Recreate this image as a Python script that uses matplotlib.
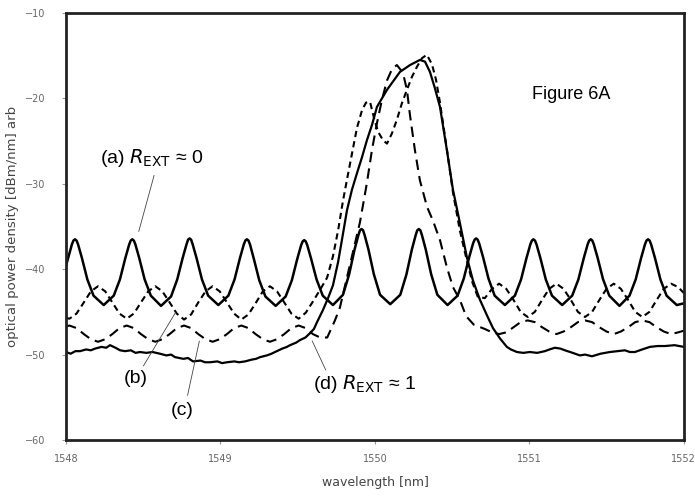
import matplotlib.pyplot as plt

# curve (a): R_EXT ~ 0, Fabry-Perot type fringes
a_wl = [1548.000, 1548.020, 1548.038, 1548.048, 1548.058, 1548.068, 1548.078, 1548.103, 1548.138, 1548.178, 1548.244,
        1548.309, 1548.349, 1548.384, 1548.409, 1548.419, 1548.429, 1548.439, 1548.449, 1548.474, 1548.509, 1548.549, 1548.615,
        1548.680, 1548.720, 1548.755, 1548.780, 1548.790, 1548.800, 1548.810, 1548.820, 1548.845, 1548.880, 1548.920, 1548.986,
        1549.051, 1549.091, 1549.126, 1549.151, 1549.161, 1549.171, 1549.181, 1549.191, 1549.216, 1549.251, 1549.291, 1549.357,
        1549.422, 1549.462, 1549.497, 1549.522, 1549.532, 1549.542, 1549.552, 1549.562, 1549.587, 1549.622, 1549.662, 1549.728,
        1549.793, 1549.833, 1549.868, 1549.893, 1549.903, 1549.913, 1549.923, 1549.933, 1549.958, 1549.993, 1550.033, 1550.099,
        1550.164, 1550.204, 1550.239, 1550.264, 1550.274, 1550.284, 1550.294, 1550.304, 1550.329, 1550.364, 1550.404, 1550.470,
        1550.535, 1550.575, 1550.610, 1550.635, 1550.645, 1550.655, 1550.665, 1550.675, 1550.700, 1550.735, 1550.775, 1550.841,
        1550.906, 1550.946, 1550.981, 1551.006, 1551.016, 1551.026, 1551.036, 1551.046, 1551.071, 1551.106, 1551.146, 1551.212,
        1551.277, 1551.317, 1551.352, 1551.377, 1551.387, 1551.397, 1551.407, 1551.417, 1551.442, 1551.477, 1551.517, 1551.583,
        1551.648, 1551.688, 1551.723, 1551.748, 1551.758, 1551.768, 1551.778, 1551.788, 1551.813, 1551.848, 1551.888, 1551.954,
        1552.000]
a_db = [-39.6, -38.3, -37.1, -36.65, -36.5, -36.65, -37.1, -38.7, -41.2, -43.1, -44.2,
        -43.1, -41.2, -38.7, -37.1, -36.65, -36.5, -36.65, -37.1, -38.7, -41.2, -43.1, -44.3,
        -43.2, -41.2, -38.7, -37.1, -36.55, -36.4, -36.55, -37.1, -38.7, -41.2, -43.1, -44.2,
        -43.1, -41.2, -38.7, -37.1, -36.65, -36.5, -36.65, -37.1, -38.8, -41.3, -43.2, -44.3,
        -43.2, -41.3, -38.8, -37.2, -36.75, -36.6, -36.75, -37.2, -38.8, -41.2, -43.1, -44.2,
        -43.0, -40.6, -37.7, -36.0, -35.45, -35.3, -35.45, -36.0, -37.7, -40.6, -43.0, -44.1,
        -43.0, -40.6, -37.7, -36.0, -35.45, -35.3, -35.45, -36.0, -37.7, -40.6, -43.0, -44.2,
        -43.1, -41.1, -38.6, -37.0, -36.55, -36.4, -36.55, -37.0, -38.6, -41.1, -43.1, -44.2,
        -43.1, -41.2, -38.7, -37.1, -36.65, -36.5, -36.65, -37.1, -38.7, -41.2, -43.1, -44.2,
        -43.1, -41.2, -38.7, -37.1, -36.65, -36.5, -36.65, -37.1, -38.7, -41.2, -43.1, -44.3,
        -43.1, -41.2, -38.7, -37.1, -36.65, -36.5, -36.65, -37.1, -38.7, -41.2, -43.1, -44.2,
        -44.0]

# curve (b): upper dashed
b_wl = [1548.000, 1548.022, 1548.068, 1548.115, 1548.161, 1548.207, 1548.254, 1548.300, 1548.346,
        1548.393, 1548.439, 1548.485, 1548.532, 1548.578, 1548.624, 1548.671, 1548.717,
        1548.764, 1548.810, 1548.856, 1548.903, 1548.949, 1548.995, 1549.042, 1549.088,
        1549.135, 1549.181, 1549.227, 1549.274, 1549.320, 1549.366, 1549.413, 1549.459,
        1549.506, 1549.552, 1549.598, 1549.645, 1549.690, 1549.728, 1549.761, 1549.793,
        1549.819, 1549.851, 1549.883, 1549.916, 1549.942, 1549.968, 1549.994, 1550.020,
        1550.052, 1550.078, 1550.110, 1550.142, 1550.174, 1550.207, 1550.239, 1550.272,
        1550.304, 1550.336, 1550.369, 1550.395, 1550.421, 1550.466, 1550.505, 1550.550,
        1550.595, 1550.630, 1550.665, 1550.711, 1550.758, 1550.804, 1550.850, 1550.897,
        1550.943, 1550.989, 1551.035, 1551.082, 1551.128, 1551.175, 1551.221, 1551.268,
        1551.314, 1551.360, 1551.406, 1551.453, 1551.499, 1551.546, 1551.592, 1551.639,
        1551.685, 1551.731, 1551.777, 1551.824, 1551.870, 1551.917, 1551.963, 1552.000]
b_db = [-45.7, -45.8, -45.2, -43.9, -42.6, -42.0, -42.6, -43.9, -45.2,
        -45.8, -45.2, -43.9, -42.6, -42.0, -42.6, -43.9, -45.2,
        -45.9, -45.3, -43.9, -42.6, -42.0, -42.6, -43.9, -45.2,
        -45.9, -45.3, -44.0, -42.6, -42.0, -42.6, -43.9, -45.2,
        -45.8, -45.1, -43.8, -42.4, -41.0, -38.5, -35.5, -32.0,
        -29.5, -26.5, -23.5, -21.4, -20.5, -20.4, -22.3, -23.9,
        -24.9, -25.3, -24.1, -22.5, -20.6, -19.0, -17.5, -16.3,
        -15.3, -14.9, -16.0, -17.8, -20.5, -26.0, -31.0, -35.5,
        -39.0, -41.5, -43.2, -43.4, -42.3, -41.7, -42.3, -43.6,
        -45.0, -45.6, -45.0, -43.6, -42.3, -41.7, -42.3, -43.6,
        -45.0, -45.6, -45.0, -43.6, -42.3, -41.7, -42.3, -43.6,
        -45.0, -45.6, -45.0, -43.6, -42.3, -41.7, -42.1, -42.8]

# curve (c): lower dashed
c_wl = [1548.000, 1548.022, 1548.068, 1548.115, 1548.161, 1548.207, 1548.254, 1548.300, 1548.346,
        1548.393, 1548.439, 1548.485, 1548.532, 1548.578, 1548.624, 1548.671, 1548.717,
        1548.764, 1548.810, 1548.856, 1548.903, 1548.949, 1548.995, 1549.042, 1549.088,
        1549.135, 1549.181, 1549.227, 1549.274, 1549.320, 1549.366, 1549.413, 1549.459,
        1549.506, 1549.552, 1549.598, 1549.645, 1549.691, 1549.741, 1549.773, 1549.825,
        1549.864, 1549.903, 1549.948, 1549.981, 1550.013, 1550.045, 1550.078, 1550.110,
        1550.142, 1550.181, 1550.207, 1550.227, 1550.259, 1550.291, 1550.337, 1550.375,
        1550.421, 1550.466, 1550.505, 1550.550, 1550.590, 1550.640, 1550.711, 1550.758,
        1550.804, 1550.850, 1550.897, 1550.943, 1550.989, 1551.035, 1551.082, 1551.128,
        1551.175, 1551.221, 1551.268, 1551.314, 1551.360, 1551.406, 1551.453, 1551.499,
        1551.546, 1551.592, 1551.639, 1551.685, 1551.731, 1551.777, 1551.824, 1551.870,
        1551.917, 1551.963, 1552.000]
c_db = [-46.7, -46.6, -46.9, -47.6, -48.2, -48.5, -48.2, -47.6, -46.9,
        -46.6, -46.9, -47.6, -48.2, -48.5, -48.2, -47.6, -46.9,
        -46.6, -46.9, -47.6, -48.2, -48.5, -48.2, -47.6, -46.9,
        -46.6, -46.9, -47.6, -48.2, -48.5, -48.2, -47.6, -46.9,
        -46.6, -46.9, -47.6, -48.0, -48.0, -46.0, -44.5, -40.5,
        -37.5, -34.5, -29.9, -26.0, -22.9, -20.2, -17.9, -16.6,
        -16.1, -17.0, -19.0, -22.0, -26.1, -29.6, -32.7, -34.3,
        -36.6, -39.8, -42.1, -43.6, -45.5, -46.5, -47.0, -47.4,
        -47.6, -47.4, -46.8, -46.2, -46.0, -46.2, -46.8, -47.3,
        -47.6, -47.3, -46.8, -46.2, -46.0, -46.2, -46.8, -47.3,
        -47.6, -47.3, -46.8, -46.2, -46.0, -46.2, -46.8, -47.3,
        -47.6, -47.4, -47.2]

# curve (d): R_EXT ~ 1 (noisy baseline)
d_wl = [1548.000, 1548.030, 1548.060, 1548.091, 1548.130, 1548.160, 1548.188, 1548.230, 1548.260,
        1548.285, 1548.320, 1548.350, 1548.382, 1548.420, 1548.450, 1548.479, 1548.520, 1548.560,
        1548.608, 1548.650, 1548.680, 1548.706, 1548.760, 1548.790, 1548.822, 1548.870, 1548.900,
        1548.932, 1548.980, 1549.010, 1549.042, 1549.090, 1549.120, 1549.159, 1549.200, 1549.230,
        1549.256, 1549.300, 1549.330, 1549.353, 1549.400, 1549.430, 1549.450, 1549.490, 1549.515,
        1549.550, 1549.579, 1549.605, 1549.625,
        1549.663, 1549.696, 1549.728, 1549.761, 1549.786, 1549.819, 1549.851, 1549.883, 1549.916,
        1549.948, 1549.981, 1550.013, 1550.078, 1550.162, 1550.227, 1550.291, 1550.324, 1550.356,
        1550.388, 1550.421, 1550.466, 1550.505, 1550.550, 1550.595, 1550.634, 1550.680, 1550.725,
        1550.764, 1550.809, 1550.854, 1550.880, 1550.919, 1550.960, 1551.003, 1551.050, 1551.100,
        1551.130, 1551.165, 1551.200, 1551.230, 1551.280, 1551.327, 1551.360, 1551.405, 1551.460,
        1551.521, 1551.570, 1551.618, 1551.650, 1551.683, 1551.730, 1551.780, 1551.830, 1551.877,
        1551.940, 1552.000]
d_db = [-49.7, -49.9, -49.6, -49.6, -49.4, -49.5, -49.3, -49.1, -49.2,
        -48.9, -49.2, -49.5, -49.6, -49.5, -49.8, -49.7, -49.8, -49.7,
        -49.9, -50.1, -50.0, -50.3, -50.5, -50.4, -50.8, -50.7, -50.9,
        -50.9, -50.8, -51.0, -50.9, -50.8, -50.9, -50.8, -50.6, -50.5,
        -50.3, -50.1, -49.9, -49.7, -49.3, -49.1, -48.9, -48.6, -48.3,
        -48.0, -47.5, -47.0, -46.2,
        -44.8, -43.4, -41.9, -39.2, -36.6, -33.1, -30.7, -28.8, -26.9,
        -24.9, -23.1, -21.0, -19.0, -16.9, -16.1, -15.5, -15.7, -16.9,
        -18.8, -21.0, -26.1, -30.7, -34.6, -38.6, -41.3, -43.6, -45.4,
        -46.9, -48.1, -49.1, -49.4, -49.7, -49.8, -49.7, -49.8, -49.6,
        -49.4, -49.2, -49.3, -49.5, -49.8, -50.1, -50.0, -50.2, -49.9,
        -49.7, -49.6, -49.5, -49.7, -49.7, -49.4, -49.1, -49.0, -49.0,
        -48.9, -49.1]

# annotation texts and where they sit / point to (wavelength, dB)
labels = [r'(a) $R_{\mathrm{EXT}}$ ≈ 0', '(b)', '(c)', r'(d) $R_{\mathrm{EXT}}$ ≈ 1']
label_xy = [(1548.22, -27.0), (1548.45, -52.8), (1548.75, -56.5), (1549.60, -53.4)]
label_ha = ['left', 'center', 'center', 'left']
pointer_from = [(1548.575, -28.7), (1548.492, -51.6), (1548.783, -55.1), (1549.689, -52.1)]
pointer_to = [(1548.466, -35.9), (1548.718, -44.8), (1548.867, -48.1), (1549.586, -48.1)]

fig = plt.figure(figsize=(6.95, 4.98), dpi=100)
ax = fig.add_axes([0.095, 0.1165, 0.889, 0.8575])

ax.plot(a_wl, a_db, color='black', lw=1.8, solid_joinstyle='round')
ax.plot(b_wl, b_db, color='black', lw=1.5, dashes=(3, 2))
ax.plot(c_wl, c_db, color='black', lw=1.5, dashes=(5, 3))
ax.plot(d_wl, d_db, color='black', lw=1.6, solid_joinstyle='round')

ax.set_xlim(1548, 1552)
ax.set_ylim(-60, -10)
ax.set_xticks([1548, 1549, 1550, 1551, 1552])
ax.set_yticks([-60, -50, -40, -30, -20, -10])
ax.tick_params(labelsize=7, labelcolor='#666666', color='#999999', length=3)
ax.tick_params(axis='y', pad=12)
ax.tick_params(axis='x', pad=7)
for s in ax.spines.values():
    s.set_linewidth(2)
    s.set_color('#222222')

ax.set_xlabel('wavelength [nm]', fontsize=9, color='#444444', labelpad=9)
ax.set_ylabel('optical power density [dBm/nm] arb', fontsize=9.5, color='#444444', labelpad=4)

ax.text(0.818, 0.808, 'Figure 6A', transform=ax.transAxes, fontsize=13,
        family='Liberation Sans', ha='center', va='center')
for txt, (x, y), ha in zip(labels, label_xy, label_ha):
    ax.text(x, y, txt, fontsize=14, family='Liberation Sans', ha=ha, va='center')

# pointer lines to the curves
for p0, p1 in zip(pointer_from, pointer_to):
    ax.annotate('', xy=p1, xytext=p0,
                arrowprops=dict(arrowstyle='-', lw=0.6, color='#444444'))

fig.savefig('out.png', dpi=100)
